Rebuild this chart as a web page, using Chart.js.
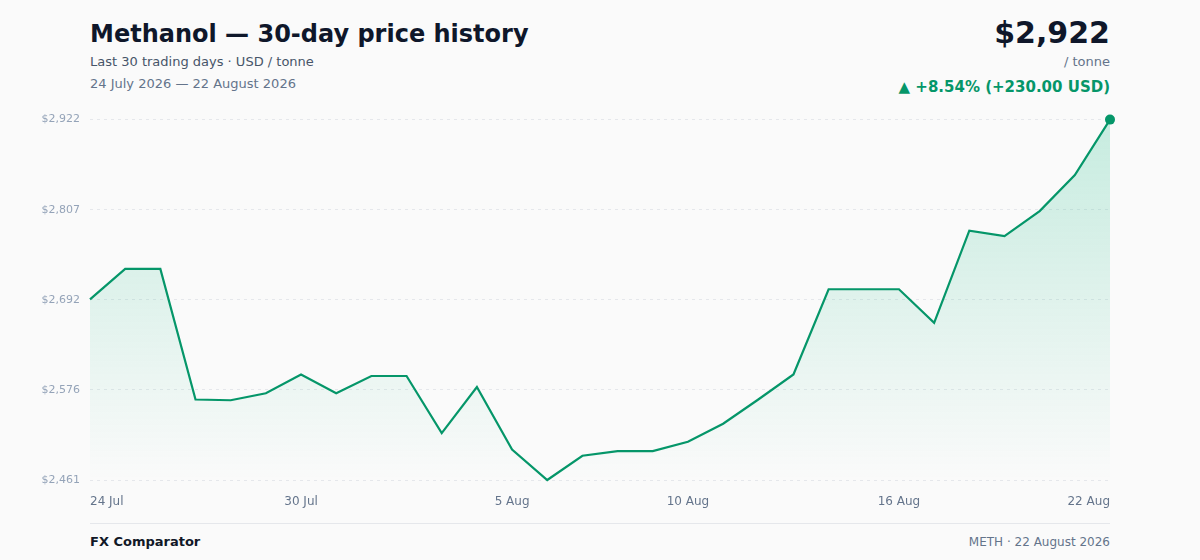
<!DOCTYPE html>
<html>
<head>
<meta charset="utf-8">
<script src="https://cdn.jsdelivr.net/npm/chart.js@4.4.1/dist/chart.umd.min.js"></script>
<style>
  html, body { margin: 0; padding: 0; background: #fafafa; }
  body { width: 1200px; height: 560px; position: relative; overflow: hidden; font-family: "DejaVu Sans", sans-serif; }
  .abs { position: absolute; white-space: nowrap; }
  #title { left: 90px; top: 20px; font-size: 24px; font-weight: bold; color: #0f172a; }
  #sub { left: 90px; top: 54px; font-size: 13px; color: #475569; }
  #range { left: 90px; top: 76px; font-size: 13px; color: #64748b; }
  #price { right: 90px; top: 15px; font-size: 30px; font-weight: bold; color: #0f172a; }
  #unit { right: 90px; top: 54px; font-size: 13px; color: #64748b; }
  #change { right: 90px; top: 78px; font-size: 15px; font-weight: bold; color: #059669; }
  #chartBox { position: absolute; left: 0; top: 103px; width: 1200px; height: 412px; }
  #rule { left: 90px; top: 523px; width: 1020px; height: 1px; background: #e5e7eb; }
  #brand { left: 90px; top: 534px; font-size: 13px; font-weight: bold; color: #111827; }
  #stamp { right: 90px; top: 535px; font-size: 12px; color: #64748b; }
</style>
</head>
<body>
<div class="abs" id="title">Methanol — 30-day price history</div>
<div class="abs" id="sub">Last 30 trading days · USD / tonne</div>
<div class="abs" id="range">24 July 2026 — 22 August 2026</div>
<div class="abs" id="price">$2,922</div>
<div class="abs" id="unit">/ tonne</div>
<div class="abs" id="change">▲ +8.54% (+230.00 USD)</div>
<div id="chartBox"><canvas id="priceChart"></canvas></div>
<div class="abs" id="rule"></div>
<div class="abs" id="brand">FX Comparator</div>
<div class="abs" id="stamp">METH · 22 August 2026</div>

<script>
// Data
const dates = [
    '24 Jul', '25 Jul', '26 Jul', '27 Jul', '28 Jul', '29 Jul', '30 Jul', '31 Jul',
    '1 Aug', '2 Aug', '3 Aug', '4 Aug', '5 Aug', '6 Aug', '7 Aug', '8 Aug',
    '9 Aug', '10 Aug', '11 Aug', '12 Aug', '13 Aug', '14 Aug', '15 Aug', '16 Aug',
    '17 Aug', '18 Aug', '19 Aug', '20 Aug', '21 Aug', '22 Aug'
];
const prices = [
    2692, 2731, 2731, 2564, 2563, 2572, 2596, 2572, 2594, 2594,
    2521, 2580, 2500, 2461, 2492, 2498, 2498, 2510, 2533, 2564,
    2596, 2705, 2705, 2705, 2662, 2780, 2773, 2805, 2851, 2922
];
const shownDates = ['24 Jul', '30 Jul', '5 Aug', '10 Aug', '16 Aug', '22 Aug'];
const yTicks = [2461, 2576.25, 2691.5, 2806.75, 2922];

const lineColor = '#059669';
const lastIndex = prices.length - 1;

function fillGradient(context) {
    const area = context.chart.chartArea;
    if (!area) return 'rgba(16, 185, 129, 0.15)';
    const g = context.chart.ctx.createLinearGradient(0, area.top, 0, area.bottom);
    g.addColorStop(0, 'rgba(16, 185, 129, 0.22)');
    g.addColorStop(1, 'rgba(16, 185, 129, 0.0)');
    return g;
}

const priceChart = new Chart(document.getElementById('priceChart'), {
    type: 'line',
    data: {
        labels: dates,
        datasets: [{
            data: prices,
            borderColor: lineColor,
            borderWidth: 2.2,
            backgroundColor: fillGradient,
            fill: 'start',
            tension: 0,
            clip: false,
            pointRadius: (ctx) => ctx.dataIndex === lastIndex ? 5 : 0,
            pointHoverRadius: (ctx) => ctx.dataIndex === lastIndex ? 5 : 0,
            pointBackgroundColor: lineColor,
            pointBorderWidth: 0
        }]
    },
    options: {
        responsive: true,
        maintainAspectRatio: false,
        animation: false,
        layout: { padding: { top: 2, right: 90, bottom: 0, left: 0 } },
        plugins: {
            legend: { display: false },
            tooltip: { enabled: false }
        },
        scales: {
            x: {
                grid: { display: false },
                border: { display: false },
                afterFit: (scale) => { scale.height = 35; },
                ticks: {
                    autoSkip: false,
                    maxRotation: 0,
                    align: 'inner',
                    padding: 7,
                    color: '#64748b',
                    font: { family: 'DejaVu Sans', size: 12 },
                    callback: function (value) {
                        const label = this.getLabelForValue(value);
                        return shownDates.includes(label) ? label : '';
                    }
                }
            },
            y: {
                min: yTicks[0],
                max: yTicks[yTicks.length - 1],
                afterFit: (scale) => { scale.width = 90; },
                afterBuildTicks: (scale) => {
                    scale.ticks = yTicks.map((v) => ({ value: v }));
                },
                grid: { color: '#e5e7eb', lineWidth: 1, drawTicks: false },
                border: { display: false, dash: [3, 4] },
                ticks: {
                    padding: 10,
                    color: '#94a3b8',
                    font: { family: 'DejaVu Sans', size: 11 },
                    callback: (value) => '$' + Math.round(value).toLocaleString('en-US')
                }
            }
        }
    }
});
</script>
</body>
</html>
